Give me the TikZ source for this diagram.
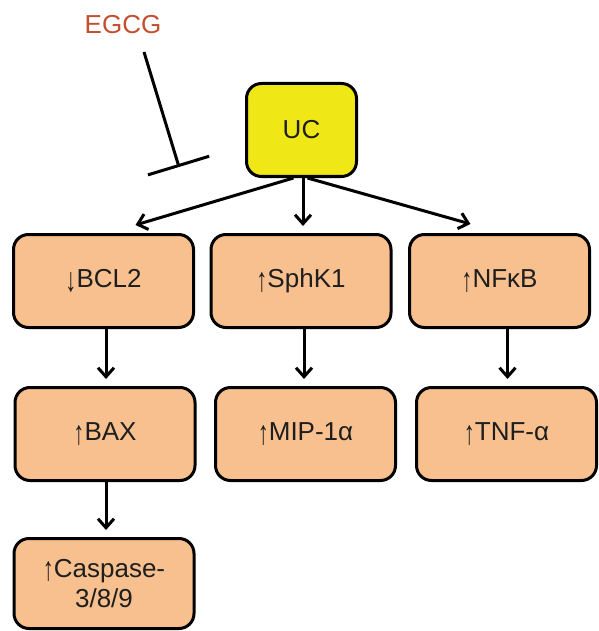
\documentclass[tikz,border=0pt]{standalone}
\usepackage{fontspec}
\setmainfont{Liberation Sans}
\usetikzlibrary{arrows.meta}
\definecolor{peach}{RGB}{248,192,142}
\definecolor{ucyellow}{RGB}{240,232,22}
\definecolor{egcgred}{RGB}{196,78,48}
\definecolor{txt}{RGB}{30,30,30}
\newcommand{\boxfont}{\fontsize{26}{30}\selectfont}
% tall, thin up/down arrows in front of the labels
\newcommand{\uparr}{\raisebox{-3.5pt}{\scalebox{0.85}[1.3]{↑}}}
\newcommand{\dnarr}{\raisebox{-3.5pt}{\scalebox{0.85}[1.3]{↓}}}
\tikzset{
  box/.style={draw, line width=3pt, rounded corners=15pt, fill=peach,
    minimum width=180pt, minimum height=93pt, inner sep=0pt,
    font=\boxfont, text=txt, align=center},
  arr/.style={line width=3pt,
    -{Straight Barb[length=9pt,width=16pt,line width=3pt]}},
  inh/.style={line width=3pt, -{Bar[width=64pt,line width=3pt]}}
}
\begin{document}
\begin{tikzpicture}[x=1pt,y=-1pt]
\useasboundingbox (0,0) rectangle (598,631);

% source node
\node[box, fill=ucyellow, minimum width=110pt] (UC) at (301.5,130) {UC};

% first row of effects
\node[box] (BCL2) at (103.5,281) {\dnarr BCL2};
\node[box] (SPHK) at (301,281) {\uparr SphK1};
\node[box] (NFKB) at (499.5,281) {\uparr NFκB};

% second row
\node[box] (BAX) at (105,434) {\uparr BAX};
\node[box] (MIP) at (305.5,434) {\uparr MIP-1α};
\node[box] (TNF) at (506.5,434) {\uparr TNF-α};

% third row
\node[box, minimum height=90pt] (CASP) at (104,583.5) {\uparr Caspase-\\3/8/9};

% inhibitor
\node[font=\boxfont, text=egcgred] (EGCG) at (123,25) {EGCG};
\coordinate (inhStart) at (144,52);
\coordinate (inhEnd) at (179,167);
\draw[inh] (inhStart) -- (inhEnd);

% connectors
\draw[arr] ([xshift=-8pt]UC.south) -- ([xshift=32pt,yshift=8pt]BCL2.north);
\draw[arr] ([xshift=1.5pt]UC.south) -- ([xshift=2pt,yshift=7pt]SPHK.north);
\draw[arr] ([xshift=6pt]UC.south) -- ([xshift=-29pt,yshift=9pt]NFKB.north);
\draw[arr, shorten >=7pt] ([xshift=2.5pt]BCL2.south) -- ([xshift=2.5pt]BCL2.south |- BAX.north);
\draw[arr, shorten >=7pt] ([xshift=3pt]SPHK.south) -- ([xshift=3pt]SPHK.south |- MIP.north);
\draw[arr, shorten >=7pt] ([xshift=8pt]NFKB.south) -- ([xshift=8pt]NFKB.south |- TNF.north);
\draw[arr, shorten >=7pt] ([xshift=1pt]BAX.south) -- ([xshift=1pt]BAX.south |- CASP.north);
\end{tikzpicture}
\end{document}
